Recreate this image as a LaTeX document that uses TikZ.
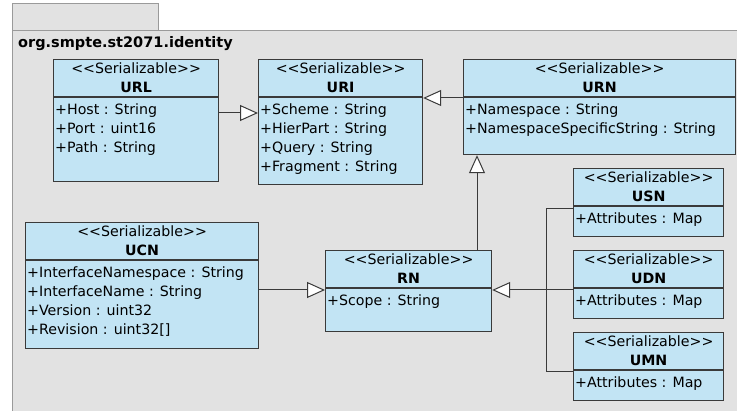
\documentclass[tikz,border=0pt]{standalone}
\usepackage{fontspec}
\setmainfont{DejaVu Sans}
\usetikzlibrary{arrows.meta}
\definecolor{pkgfill}{HTML}{E2E2E2}
\definecolor{pkgline}{HTML}{9A9A9A}
\definecolor{clsfill}{HTML}{C2E4F4}
\definecolor{clsline}{HTML}{3A3A3A}
\tikzset{
  cls/.style={draw=clsline, fill=clsfill, line width=1.2pt, inner sep=0pt, rectangle},
  sepline/.style={draw=clsline, line width=1.2pt},
  txt/.style={inner sep=0pt, font=\fontsize{14.2pt}{19pt}\selectfont},
  ctxt/.style={txt, anchor=base},
  btxt/.style={txt, anchor=base, font=\fontsize{14.2pt}{19pt}\selectfont\bfseries},
  atxt/.style={txt, anchor=base west},
  gen/.style={draw=clsline, line width=1pt, -{Triangle[open, length=18pt, width=16pt, fill=white, line width=1pt]}},
  assoc/.style={draw=clsline, line width=1pt},
}
\newcommand{\umlbox}[7]{%
  \node[cls, minimum width=#4pt, minimum height=#5pt, anchor=north west] (#1) at (#2,#3) {};
  \draw[sepline] ([yshift=-38pt]#1.north west) -- ([yshift=-38pt]#1.north east);
  \node[ctxt] (#1-st) at ([yshift=-15pt]#1.north) {<{}<Serializable>{}>};
  \node[btxt] (#1-nm) at ([yshift=-34pt]#1.north) {#6};
  \foreach \a [count=\i] in {#7} {
    \node[atxt] (#1-a\i) at ([xshift=2pt, yshift={-(37+19*\i)*1pt}]#1.north west) {\a};
  }
}
\begin{document}
\begin{tikzpicture}[x=1pt, y=-1pt]
\useasboundingbox (0,0) rectangle (737,411);
\fill[white] (0,0) rectangle (737,411);
% package
\draw[draw=pkgline, fill=pkgfill, line width=1pt] (12,4) rectangle (158,31);
\draw[draw=pkgline, fill=pkgfill, line width=1pt] (12,31) rectangle (745,420);
\node[txt, anchor=base west, font=\fontsize{14.5pt}{19pt}\selectfont\bfseries] (pkg) at (18,48) {org.smpte.st2071.identity};
% classes
\umlbox{URL}{53}{59}{165}{122}{URL}{+Host : String, +Port : uint16, +Path : String}
\umlbox{URI}{258}{59}{164}{125}{URI}{+Scheme : String, +HierPart : String, +Query : String, +Fragment : String}
\umlbox{URN}{463}{59}{272}{95}{URN}{+Namespace : String, +NamespaceSpecificString : String}
\umlbox{USN}{573}{168}{150}{68}{USN}{+Attributes : Map}
\umlbox{UDN}{573}{250}{150}{68}{UDN}{+Attributes : Map}
\umlbox{UMN}{573}{332}{150}{68}{UMN}{+Attributes : Map}
\umlbox{RN}{325}{250}{166}{81}{RN}{+Scope : String}
\umlbox{UCN}{25}{222}{233}{126}{UCN}{+InterfaceNamespace : String, +InterfaceName : String, +Version : uint32, +Revision : uint32[]}
% connectors
\coordinate (c1) at (218,113);
\draw[gen] (c1) -- (c1 -| URI.west);
\coordinate (c2) at (463,98);
\draw[gen] (c2) -- (c2 -| URI.east);
\coordinate (c3) at (477,250);
\draw[gen] (c3) -- (c3 |- URN.south);
\coordinate (c4) at (258,290);
\draw[gen] (c4) -- (c4 -| RN.west);
\coordinate (busTop) at (546,209);
\coordinate (busBot) at (546,372);
\draw[assoc] (busTop -| USN.west) -- (busTop) -- (busBot) -- (busBot -| UMN.west);
\coordinate (c5) at (573,290);
\draw[gen] (c5 -| UDN.west) -- (c5 -| RN.east);
\end{tikzpicture}
\end{document}
